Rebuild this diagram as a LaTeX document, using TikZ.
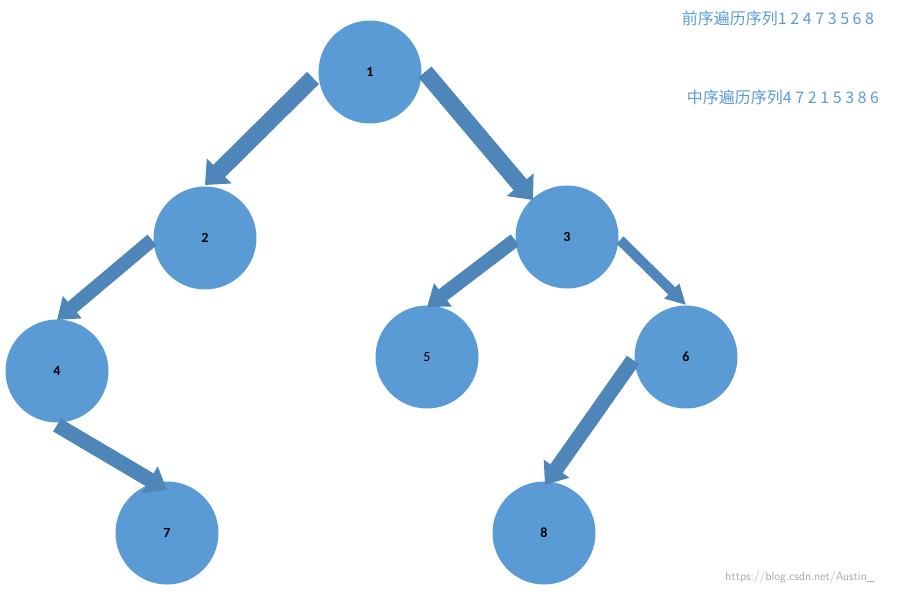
\documentclass[tikz,border=0pt]{standalone}
\usepackage{fontspec}
\setmainfont{Carlito}
\newfontfamily\cjk{Noto Sans CJK SC}
\usetikzlibrary{arrows.meta}
\definecolor{nodeblue}{HTML}{5B9BD5}
\definecolor{arrowblue}{HTML}{4F86BA}
\definecolor{textblue}{HTML}{5B9BD5}
\begin{document}
\begin{tikzpicture}[x=1pt,y=-1pt,
  tn/.style={circle,fill=nodeblue,minimum size=103pt,inner sep=0pt,font=\fontsize{14}{16}\selectfont\bfseries},
  blk/.style={draw=arrowblue,line width=#1,-{Triangle[width=2*#1,length=20pt]}},
  blk/.default=16pt]
\useasboundingbox (0,0) rectangle (909,595);
\node[tn] (n1) at (370,72) {1};
\node[tn] (n2) at (205,238) {2};
\node[tn] (n3) at (567,237) {3};
\node[tn] (n4) at (57,371) {4};
\node[tn,font=\fontsize{14}{16}\selectfont] (n5) at (427,357) {5};
\node[tn] (n6) at (686,357) {6};
\node[tn] (n7) at (167,533) {7};
\node[tn] (n8) at (544,533) {8};
\coordinate (a1s) at (313,78); \coordinate (a1e) at (205,185);
\coordinate (a2s) at (425,72); \coordinate (a2e) at (533,200);
\coordinate (a3s) at (152,240); \coordinate (a3e) at (57,320);
\coordinate (a4s) at (515,240); \coordinate (a4e) at (427,307);
\coordinate (a5s) at (620,240); \coordinate (a5e) at (686,305);
\coordinate (a6s) at (57,425); \coordinate (a6e) at (167,490);
\coordinate (a7s) at (633,360); \coordinate (a7e) at (545,485);
\draw[blk=17pt] (a1s) -- (a1e);
\draw[blk=17pt] (a2s) -- (a2e);
\draw[blk=14pt] (a3s) -- (a3e);
\draw[blk=14pt] (a4s) -- (a4e);
\draw[blk=10pt] (a5s) -- (a5e);
\draw[blk=15pt] (a6s) -- (a6e);
\draw[blk=15pt] (a7s) -- (a7e);
\node[text=textblue,font=\cjk\fontsize{16}{18}\selectfont] (t1) at (778,18) {前序遍历序列1 2 4 7 3 5 6 8};
\node[text=textblue,font=\cjk\fontsize{16}{18}\selectfont] (t2) at (783,97) {中序遍历序列4 7 2 1 5 3 8 6};
\node[text=gray!70,font=\fontsize{12}{14}\selectfont\sffamily] (wm) at (800,577) {https://blog.csdn.net/Austin\_};
\end{tikzpicture}
\end{document}
